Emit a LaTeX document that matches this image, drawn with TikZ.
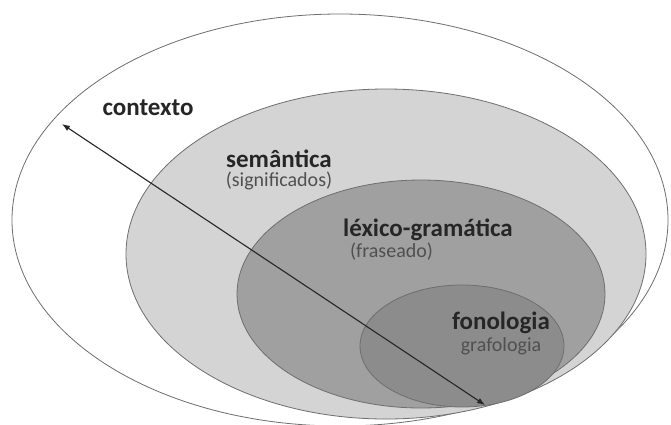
\documentclass[tikz,border=0pt]{standalone}
\usepackage{fontspec}
\setmainfont{Carlito}
\usetikzlibrary{arrows.meta,positioning}
\definecolor{rimgray}{HTML}{6E6E6E}
\definecolor{semgray}{HTML}{D4D4D4}
\definecolor{lexgray}{HTML}{A0A0A0}
\definecolor{fongray}{HTML}{8C8C8C}
\definecolor{subgray}{HTML}{505050}
\tikzset{
  ring/.style={draw=rimgray, line width=0.8pt},
  title/.style={font=\fontsize{25}{28}\selectfont\bfseries, text=black!85, inner sep=0pt},
  subtitle/.style={font=\fontsize{20}{23}\selectfont, text=subgray, inner sep=0pt}
}
\begin{document}
\begin{tikzpicture}[x=1pt,y=-1pt,>=Latex]
  \useasboundingbox (0,0) rectangle (671,424);
  % nested levels
  \fill[white] (0,0) rectangle (671,424);
  \draw[ring] (340,220) ellipse [x radius=328pt, y radius=206pt];
  \filldraw[ring, fill=semgray] (386,254) ellipse [x radius=260pt, y radius=165pt];
  \filldraw[ring, fill=lexgray] (421,294) ellipse [x radius=184pt, y radius=114pt];
  \filldraw[ring, fill=fongray] (462,346) ellipse [x radius=102pt, y radius=61pt];
  % labels
  \node[title] (contexto) at (148,108) {contexto};
  \node[title] (semantica) at (279,159) {semântica};
  \node[subtitle, below=4pt of semantica] (significados) {(significados)};
  \node[title] (lexico) at (428,230) {léxico-gramática};
  \node[subtitle, below right=2pt and 7pt of lexico.south west] (fraseado) {(fraseado)};
  \node[title] (fonologia) at (501,323) {fonologia};
  \node[subtitle, below=3pt of fonologia] (grafologia) {grafologia};
  % realization axis
  \coordinate (outer) at (62,124);
  \coordinate (inner) at (485,405);
  \draw[<->, line width=1.1pt, black!85] (outer) -- (inner);
\end{tikzpicture}
\end{document}
